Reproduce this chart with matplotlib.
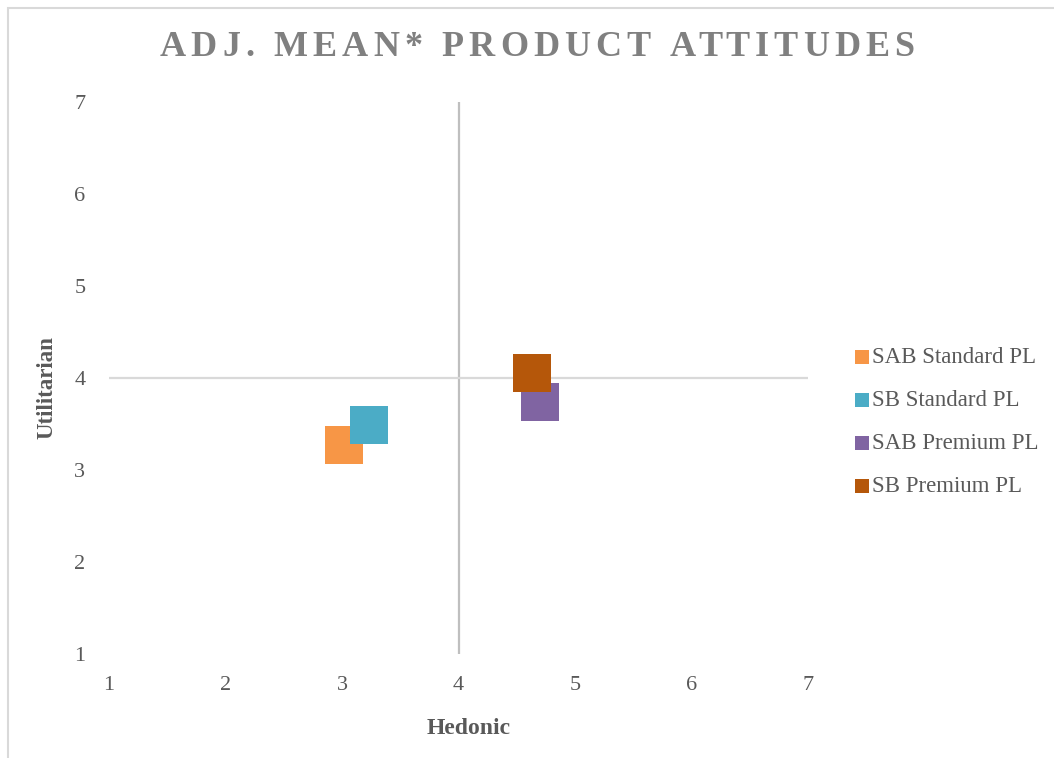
import matplotlib
matplotlib.use("Agg")
import matplotlib.pyplot as plt
from matplotlib.patches import Rectangle

# product attitude means per private label type
series = ["SAB Standard PL", "SB Standard PL", "SAB Premium PL", "SB Premium PL"]
hedonic = [3.02, 3.23, 4.70, 4.63]
utilitarian = [3.27, 3.49, 3.74, 4.05]
colors = ["#F79646", "#4BACC6", "#8064A2", "#B5570A"]
ticks = [1, 2, 3, 4, 5, 6, 7]
title = "ADJ. MEAN* PRODUCT ATTITUDES"

W, H = 1054, 758
plt.rcParams["font.family"] = ["Liberation Serif", "DejaVu Serif"]
fig = plt.figure(figsize=(W / 100, H / 100), dpi=100)

# chart area border, only the top and left edges show
fig.patches.append(Rectangle((8 / W, -0.1), 1.2, (H - 8) / H + 0.1,
                             transform=fig.transFigure, fill=False,
                             edgecolor="#d9d9d9", lw=1.5))

ax = fig.add_axes([109 / W, (H - 654) / H, (808 - 109) / W, (654 - 102) / H])
ax.set_xlim(1, 7)
ax.set_ylim(1, 7)
ax.set_xticks(ticks)
ax.set_yticks(ticks)
for s in ax.spines.values():
    s.set_visible(False)
ax.tick_params(length=0, labelsize=16, labelcolor="#595959")
ax.tick_params(axis="x", pad=16)
ax.tick_params(axis="y", pad=17)

# axes cross at 4
ax.axvline(4, color="#bfbfbf", lw=1.6, zorder=1)
ax.axhline(4, color="#d9d9d9", lw=1.6, zorder=1)

for x, y, c, lab in zip(hedonic, utilitarian, colors, series):
    ax.scatter([x], [y], s=760, marker="s", color=c, linewidths=0,
               zorder=3, label=lab, clip_on=False)

fig.text(47 / W, 1 - 388 / H, "Utilitarian", rotation=90, ha="center",
         va="center", fontsize=16.5, fontweight="bold", color="#595959")
fig.text(469 / W, 1 - 729 / H, "Hedonic", ha="center", va="center",
         fontsize=17, fontweight="bold", color="#595959")

leg = fig.legend(loc="center left", bbox_to_anchor=(853 / W, 1 - 422 / H),
                 frameon=False, fontsize=16.5, markerscale=0.34,
                 handletextpad=0.1, labelspacing=0.97, handlelength=0.75,
                 borderaxespad=0, borderpad=0)
for t in leg.get_texts():
    t.set_color("#595959")

# letter-spaced title, placed one character at a time
fig.canvas.draw()
rend = fig.canvas.get_renderer()
tsize = 26
probe = fig.text(0, 0, "", fontsize=tsize, fontweight="bold")
def width(s):
    probe.set_text(s)
    return probe.get_window_extent(rend).width if s else 0.0
offsets = [width(title[:i]) for i in range(len(title))]
full = width(title)
probe.remove()
span = 755
gap = (span - full) / (len(title) - 1)
x0 = 537 - span / 2
for i, ch in enumerate(title):
    px = x0 + offsets[i] + i * gap
    fig.text(px / W, 1 - 56 / H, ch, fontsize=tsize, fontweight="bold",
             color="#808080", ha="left", va="baseline")

fig.savefig("out.png", dpi=100)
